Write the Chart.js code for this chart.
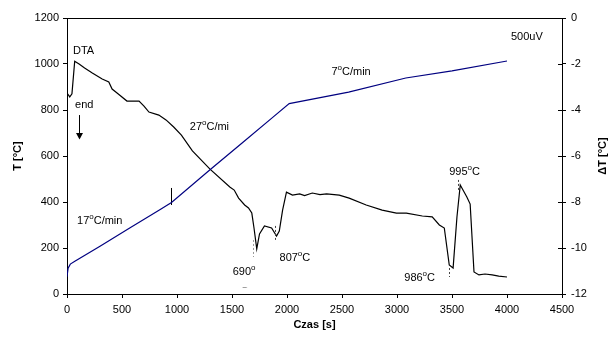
<!DOCTYPE html>
<html>
<head>
<meta charset="utf-8">
<script src="https://cdn.jsdelivr.net/npm/chart.js@4.4.1/dist/chart.umd.min.js"></script>
<style>
  html, body { margin: 0; padding: 0; background: #fff; }
  #wrap { width: 616px; height: 338px; }
</style>
</head>
<body>
<div id="wrap"><canvas id="myChart" width="616" height="338"></canvas></div>
<script>
// Temperature curve (left axis, T [°C]) vs time [s]
const tempTime = [0, 10, 30, 75, 300, 570, 840, 950, 1300, 1600, 1870, 2020, 2560, 3080, 3500, 4000];
const tempVal = [75, 112, 130, 143, 208, 287, 365, 398, 540, 660, 768, 828, 878, 939, 970, 1013];

// DTA curve (right axis, ΔT [°C]) vs time [s]
const dtaTime = [0, 25, 45, 70, 110, 160, 230, 320, 380, 410, 455, 545, 655, 700, 745, 835, 900, 970, 1040, 1140,
  1300, 1480, 1520, 1560, 1615, 1650, 1680, 1700, 1725, 1750, 1795, 1860, 1905, 1930, 1960, 1995, 2050, 2115, 2160, 2230, 2300, 2360, 2475, 2565, 2720,
  2865, 2995, 3085, 3230, 3320, 3385, 3430, 3475, 3510, 3545, 3575, 3590, 3635, 3665, 3700, 3745, 3800, 3865, 3925, 4000];
const dtaVal = [-3.26, -3.43, -3.30, -1.88, -2.0, -2.17, -2.39, -2.65, -2.78, -3.09, -3.26, -3.61, -3.61, -3.83, -4.09, -4.22, -4.43, -4.74, -5.09, -5.78,
  -6.57, -7.35, -7.48, -7.83, -8.13, -8.26, -8.48, -9.13, -10.04, -9.39, -9.04, -9.13, -9.48, -9.26, -8.35, -7.57, -7.70, -7.65, -7.72, -7.61, -7.68, -7.65, -7.70, -7.83, -8.13,
  -8.35, -8.48, -8.48, -8.61, -8.65, -9.0, -9.13, -10.74, -10.87, -8.65, -7.26, -7.39, -7.78, -8.09, -11.04, -11.17, -11.13, -11.17, -11.22, -11.26];

// small mark on the heating curve
const markTime = [950, 950];
const markVal = [387, 461];

// axis ranges / steps
const xTicks = [0, 4500, 500];
const tTicks = [0, 1200, 200];
const dtTicks = [-12, 0, 2];

const FONT = '"Liberation Sans", Arial, sans-serif';
Chart.defaults.font.family = FONT;
Chart.defaults.font.size = 11;
Chart.defaults.color = '#000';

function pts(xs, ys) {
  return xs.map((v, i) => ({ x: v, y: ys[i] }));
}

// text with superscript parts: [normal, sup, normal, ...]
function supText(ctx, parts, x, y) {
  let cx = x;
  parts.forEach((p, i) => {
    const sup = i % 2 === 1;
    ctx.font = (sup ? '8px ' : '11px ') + FONT;
    ctx.fillText(p, cx, sup ? y - 4 : y);
    cx += ctx.measureText(p).width;
  });
}

const extras = {
  id: 'extras',
  afterDraw(chart) {
    const { ctx, chartArea: a, scales: { x, y, y1 } } = chart;
    const px = v => x.getPixelForValue(v);
    const py = v => y.getPixelForValue(v);
    ctx.save();
    ctx.strokeStyle = '#000';
    ctx.lineWidth = 1;
    // top frame line
    ctx.beginPath();
    ctx.moveTo(a.left, Math.round(a.top) + 0.5);
    ctx.lineTo(a.right, Math.round(a.top) + 0.5);
    // inner half of the right-axis ticks
    y1.ticks.forEach(t => {
      const yy = Math.round(y1.getPixelForValue(t.value)) + 0.5;
      ctx.moveTo(a.right - 4, yy);
      ctx.lineTo(a.right, yy);
    });
    ctx.stroke();

    // labels
    ctx.fillStyle = '#000';
    ctx.textBaseline = 'middle';
    ctx.textAlign = 'left';
    ctx.font = '11px ' + FONT;
    ctx.fillText('DTA', px(54), py(1057));
    ctx.fillText('end', px(73), py(822));
    ctx.fillText('500uV', px(4036), py(1117));
    supText(ctx, ['27', 'o', 'C/mi'], px(1116), py(726));
    supText(ctx, ['7', 'o', 'C/min'], px(2404), py(965));
    supText(ctx, ['17', 'o', 'C/min'], px(91), py(317));
    supText(ctx, ['690', 'o'], px(1506), py(96));
    supText(ctx, ['807', 'o', 'C'], px(1932), py(157));
    supText(ctx, ['986', 'o', 'C'], px(3066), py(70));
    supText(ctx, ['995', 'o', 'C'], px(3474), py(530));
    // wrapped "C" of 690°C, mostly hidden
    ctx.save();
    ctx.beginPath();
    ctx.rect(px(1500), py(60), 30, py(28) - py(60));
    ctx.clip();
    ctx.textAlign = 'center';
    ctx.font = '11px ' + FONT;
    ctx.fillText('C', px(1614), py(8));
    ctx.restore();

    // arrow under "end"
    const ax = Math.round(px(109)) + 0.5;
    ctx.beginPath();
    ctx.moveTo(ax, py(778));
    ctx.lineTo(ax, py(690));
    ctx.stroke();
    ctx.beginPath();
    ctx.moveTo(ax - 3.5, py(700));
    ctx.lineTo(ax + 3.5, py(700));
    ctx.lineTo(ax, py(672));
    ctx.closePath();
    ctx.fill();

    // dashed marker lines
    ctx.setLineDash([2, 2]);
    const dash = (t, t0, t1, col) => {
      ctx.strokeStyle = col;
      ctx.beginPath();
      const xx = Math.round(px(t)) + 0.5;
      ctx.moveTo(xx, py(t0));
      ctx.lineTo(xx, py(t1));
      ctx.stroke();
    };
    dash(1687, 235, 161, '#999');
    dash(1887, 296, 226, '#444');
    dash(3474, 113, 74, '#444');
    dash(3555, 496, 452, '#444');
    ctx.setLineDash([]);

    // right axis title, reading bottom-to-top
    ctx.translate(603, (a.top + a.bottom) / 2);
    ctx.rotate(-Math.PI / 2);
    ctx.textAlign = 'center';
    ctx.font = 'bold 11px ' + FONT;
    ctx.fillText('ΔT [°C]', 0, 0);
    ctx.restore();
  }
};

const ctx = document.getElementById('myChart').getContext('2d');
const plain = v => String(v);

const chart = new Chart(ctx, {
  type: 'line',
  data: {
    datasets: [
      {
        label: 'T',
        data: pts(tempTime, tempVal),
        yAxisID: 'y',
        borderColor: '#000080',
        borderWidth: 1.2,
        pointRadius: 0,
        fill: false,
        tension: 0
      },
      {
        label: 'DTA',
        data: pts(dtaTime, dtaVal),
        yAxisID: 'y1',
        borderColor: '#000',
        borderWidth: 1.2,
        pointRadius: 0,
        fill: false,
        tension: 0
      },
      {
        label: 'mark',
        data: pts(markTime, markVal),
        yAxisID: 'y',
        borderColor: '#000',
        borderWidth: 1,
        pointRadius: 0,
        fill: false
      }
    ]
  },
  options: {
    responsive: false,
    animation: false,
    devicePixelRatio: 1,
    layout: { padding: { top: 18, left: 0, right: 0, bottom: 0 } },
    plugins: { legend: { display: false }, tooltip: { enabled: false } },
    scales: {
      x: {
        type: 'linear',
        min: xTicks[0], max: xTicks[1],
        ticks: { stepSize: xTicks[2], padding: 5, maxRotation: 0, callback: plain },
        grid: { drawOnChartArea: false, tickLength: 4, color: '#000' },
        border: { color: '#000' },
        title: { display: true, text: 'Czas [s]', font: { weight: 'bold', size: 11 }, padding: { top: 0, bottom: 6 } },
        afterFit: s => { s.height = 44; }
      },
      y: {
        position: 'left',
        min: tTicks[0], max: tTicks[1],
        ticks: { stepSize: tTicks[2], padding: 4, callback: plain },
        grid: { drawOnChartArea: false, tickLength: 4, color: '#000' },
        border: { color: '#000' },
        title: { display: true, text: 'T [°C]', font: { weight: 'bold', size: 11 }, padding: { top: 11, bottom: 0 } },
        afterFit: s => { s.width = 67; }
      },
      y1: {
        position: 'right',
        min: dtTicks[0], max: dtTicks[1],
        ticks: { stepSize: dtTicks[2], padding: 5, callback: plain },
        grid: { drawOnChartArea: false, tickLength: 4, color: '#000' },
        border: { color: '#000' },
        afterFit: s => { s.width = 54; }
      }
    }
  },
  plugins: [extras]
});
</script>
</body>
</html>
